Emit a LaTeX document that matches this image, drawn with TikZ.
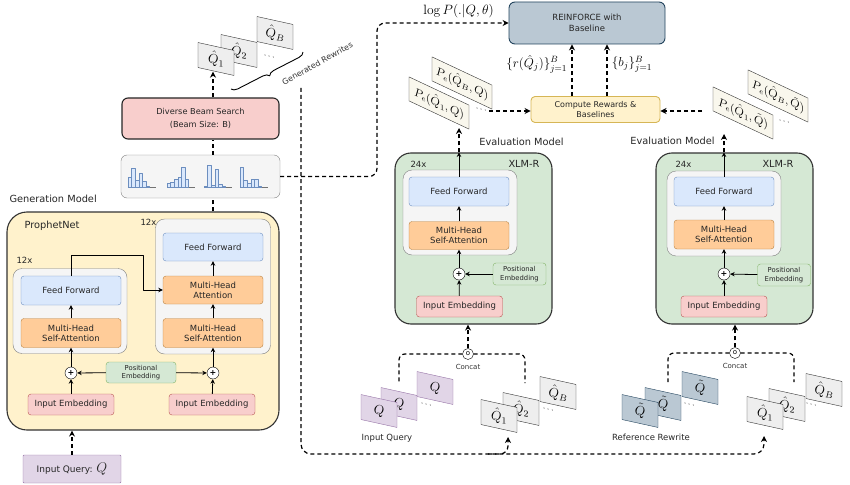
\RequirePackage{fix-cm}
\documentclass[tikz,border=0pt]{standalone}
\usepackage{amsmath, amssymb}
\usepackage[no-math]{fontspec}
\setmainfont{DejaVu Sans}
\usetikzlibrary{arrows.meta, decorations.pathreplacing}

\begin{document}
\begin{tikzpicture}
		[x=1pt,y=-1pt,line join=round,>={Stealth[length=4.5pt,width=4.5pt]},
		%Styles
		box/.style={draw,rounded corners=3pt,inner sep=0pt,align=center,text=black!85,font=\fontsize{8.5}{10}\selectfont},
		model/.style={draw=black!80,line width=1.1pt,rounded corners=16pt,inner sep=0pt},
		stack/.style={draw=black!50,fill=stackgray,rounded corners=9pt,inner sep=0pt,minimum width=114,minimum height=85},
		feed/.style={box,fill=ffblue,draw=ffline,minimum width=100,minimum height=29},
		attn/.style={box,fill=attnorange,draw=attnline,minimum width=100,minimum height=29},
		embed/.style={box,fill=embred,draw=embline,minimum width=86,minimum height=21},
		posenc/.style={box,fill=posgreen,draw=posline,minimum width=53,minimum height=22,font=\fontsize{6.8}{8.5}\selectfont},
		plus/.style={circle,draw,fill=white,inner sep=0pt,minimum size=12,font=\bfseries\fontsize{8}{8}\selectfont},
		concat/.style={circle,draw,fill=white,inner sep=0pt,minimum size=11,font=\fontsize{7}{7}\selectfont},
		card/.style={draw=black!80,fill=hatgray,yslant=-0.22,minimum width=36,minimum height=25,inner sep=0pt,font=\fontsize{13.5}{13.5}\selectfont},
		query card/.style={card,fill=querypurple,draw=queryline},
		ref card/.style={card,fill=reinblue,draw=reinline},
		score card/.style={card,fill=pecream,yslant=-0.25,minimum width=60,minimum height=24,font=\fontsize{12}{12}\selectfont},
		model title/.style={text=black!85,font=\fontsize{9.8}{11}\selectfont},
		times/.style={text=black!85,font=\fontsize{8.5}{10}\selectfont},
		small label/.style={text=black!80,font=\fontsize{7}{8}\selectfont},
		more/.style={yslant=-0.22,font=\fontsize{9}{9}\selectfont},
		flow/.style={line width=1.2pt,dash pattern=on 4pt off 3pt},
		flow arrow/.style={flow,-{Stealth[length=6pt,width=6pt]}}
		]
		
		%Colors
		\definecolor{genyellow}{HTML}{FFF2CC}
		\definecolor{evalgreen}{HTML}{D5E8D4}
		\definecolor{stackgray}{HTML}{F5F5F5}
		\definecolor{ffblue}{HTML}{DAE8FC}
		\definecolor{ffline}{HTML}{6C8EBF}
		\definecolor{attnorange}{HTML}{FFCC99}
		\definecolor{attnline}{HTML}{B8813F}
		\definecolor{embred}{HTML}{F8CECC}
		\definecolor{embline}{HTML}{B85450}
		\definecolor{posgreen}{HTML}{D5E8D4}
		\definecolor{posline}{HTML}{82B366}
		\definecolor{reinblue}{HTML}{BAC8D3}
		\definecolor{reinline}{HTML}{23445D}
		\definecolor{rewline}{HTML}{D6B656}
		\definecolor{querypurple}{HTML}{E1D5E7}
		\definecolor{queryline}{HTML}{9673A6}
		\definecolor{hatgray}{HTML}{EEEEEE}
		\definecolor{pecream}{HTML}{F9F7ED}
		
		\useasboundingbox (0,0) rectangle (850,484);
		
		%Generation model
		\node[model,fill=genyellow,rounded corners=20pt,minimum width=272,minimum height=218] (gen) at (143,321) {};
		\node[model title,anchor=west] (genname) at (6,199) {Generation Model};
		\node[model title,anchor=west] (prophet) at (21,226) {ProphetNet};
		\node[stack] (encstack) at (70,311) {};
		\node[stack,minimum width=115,minimum height=135] (decstack) at (213,286.5) {};
		\node[times,anchor=west] (enctimes) at (13,260) {12x};
		\node[times,anchor=west] (dectimes) at (137,222) {12x};
		\node[feed] (encff) at (71,290.5) {Feed Forward};
		\node[attn] (encsa) at (71,333) {Multi-Head\\Self-Attention};
		\node[feed,minimum height=28] (decff) at (213,247) {Feed Forward};
		\node[attn,minimum height=28] (decca) at (213,290) {Multi-Head\\Attention};
		\node[attn] (decsa) at (213,333) {Multi-Head\\Self-Attention};
		\node[plus] (encplus) at (71,373) {+};
		\node[plus] (decplus) at (213,373) {+};
		\node[posenc,minimum width=70,minimum height=21] (genpos) at (141,372.5) {Positional\\Embedding};
		\node[embed] (encemb) at (71,404.5) {Input Embedding};
		\node[embed] (decemb) at (212,404.5) {Input Embedding};
		\node[box,fill=querypurple,draw=queryline,rounded corners=1pt,minimum width=98,minimum height=28,font=\fontsize{9}{10}\selectfont] (query) at (72,469) {Input Query: {\fontsize{14}{14}\selectfont$Q$}};
		\coordinate (skip) at (143,255);
		
		%Decoder output and beam search
		\node[box,fill=stackgray,draw=black!50,rounded corners=6pt,minimum width=159,minimum height=43] (probs) at (200.5,176.5) {};
		\foreach \x/\hs in {128/{10,19,7,14,6,1},167/{4,5,8,10,20,8},204/{1,22,2,18,3,1},240/{20,7,4,8,8,1}}{
			\draw[black!55,line width=0.5pt] (\x,187) -- ++(28,0);
			\foreach \h [count=\i] in \hs
				\draw[fill=ffblue,draw=ffline,line width=0.5pt] ({\x+(\i-1)*3.6},187) rectangle ++(3.6,-\h);
		}
		\node[box,fill=embred,draw=black!85,line width=1.1pt,rounded corners=6pt,minimum width=157,minimum height=41,font=\fontsize{8.2}{13}\selectfont] (beam) at (200.5,118.5) {Diverse Beam Search\\(Beam Size: B)};
		
		%Generated rewrites
		\node[card] (gqB) at (275,33) {$\hat{Q}_B$};
		\node[card] (gq2) at (239,51) {$\hat{Q}_2$};
		\node[card] (gq1) at (216,59) {$\hat{Q}_1$};
		\node[more] (gdots) at (270,57) {$\cdots$};
		\draw[decorate,decoration={brace,amplitude=6pt,mirror},line width=0.9pt] (231,89) -- (303,52);
		\node[small label,rotate=29,anchor=base west,font=\fontsize{8}{9}\selectfont] (rewrites) at (281,87) {Generated Rewrites};
		\coordinate (rewout) at (301,88);
		
		%Policy update
		\node[box,fill=reinblue,draw=reinline,line width=0.9pt,rounded corners=6pt,minimum width=156,minimum height=42,font=\fontsize{8.5}{11}\selectfont] (reinforce) at (587,23) {REINFORCE with\\Baseline};
		\node[box,fill=genyellow,draw=rewline,line width=0.9pt,rounded corners=4pt,minimum width=129,minimum height=26,font=\fontsize{8}{10.5}\selectfont] (rewards) at (595.5,109.5) {Compute Rewards \&\\Baselines};
		\coordinate (lpturn) at (377,23);
		
		%Evaluation model on the input query
		\node[model,fill=evalgreen,minimum width=157,minimum height=171] (evalA) at (473.5,238.5) {};
		\node[model title] (evalAname) at (521.5,142) {Evaluation Model};
		\node[times,anchor=west] (evalAtimes) at (407,164) {24x};
		\node[model title,anchor=east] (xlmA) at (543,164) {XLM-R};
		\node[stack] (stackA) at (460,212.5) {};
		\node[feed] (ffA) at (459,191.5) {Feed Forward};
		\node[attn,minimum height=28] (saA) at (459,235.5) {Multi-Head\\Self-Attention};
		\node[plus] (plusA) at (459,274) {+};
		\node[posenc] (posA) at (519.5,274) {Positional\\Embedding};
		\node[embed] (embA) at (459.5,306.5) {Input Embedding};
		\node[concat] (catA) at (468,354) {o};
		\node[small label] (catAname) at (468,367) {Concat};
		
		\node[query card] (iqC) at (435,388) {$Q$};
		\node[query card] (iqB) at (399,404) {$Q$};
		\node[query card] (iqA) at (379,411) {$Q$};
		\node[more] (iqdots) at (427,405) {$\cdots$};
		\node[times] (iqname) at (387,438) {Input Query};
		\node[card] (mqB) at (558,393) {$\hat{Q}_B$};
		\node[card] (mq2) at (521,409) {$\hat{Q}_2$};
		\node[card] (mq1) at (499,416) {$\hat{Q}_1$};
		\node[more] (mqdots) at (549,410) {$\cdots$};
		
		\node[score card] (peAB) at (462,83) {$P_e(\hat{Q}_B,Q)$};
		\node[score card] (peA1) at (439,103) {$P_e(\hat{Q}_1,Q)$};
		\node[more] (pedotsA) at (482,110) {$\cdots$};
		\coordinate (peAtip) at (459,128);
		\coordinate (peAout) at (489,111);
		\coordinate (catAleft) at (399,383);
		\coordinate (catAright) at (525,383);
		
		%Evaluation model on the reference rewrite
		\node[model,fill=evalgreen,minimum width=157,minimum height=171] (evalB) at (734.5,238.5) {};
		\node[model title] (evalBname) at (672.5,141) {Evaluation Model};
		\node[times,anchor=west] (evalBtimes) at (672,164) {24x};
		\node[model title,anchor=east] (xlmB) at (797,164) {XLM-R};
		\node[stack] (stackB) at (724,213.5) {};
		\node[feed] (ffB) at (724,191.5) {Feed Forward};
		\node[attn] (saB) at (724,234.5) {Multi-Head\\Self-Attention};
		\node[plus] (plusB) at (724,274) {+};
		\node[posenc] (posB) at (784,275) {Positional\\Embedding};
		\node[embed] (embB) at (724,306.5) {Input Embedding};
		\node[concat] (catB) at (735,353) {o};
		\node[small label] (catBname) at (735,366) {Concat};
		
		\node[ref card] (rqC) at (700,388) {$\tilde{Q}$};
		\node[ref card] (rqB) at (663,404) {$\tilde{Q}$};
		\node[ref card] (rqA) at (640,411) {$\tilde{Q}$};
		\node[more] (rqdots) at (690,405) {$\cdots$};
		\node[times] (rqname) at (651,437) {Reference Rewrite};
		\node[card] (sqB) at (824,390) {$\hat{Q}_B$};
		\node[card] (sq2) at (787,405) {$\hat{Q}_2$};
		\node[card] (sq1) at (765,413) {$\hat{Q}_1$};
		\node[more] (sqdots) at (812,405) {$\cdots$};
		
		\node[score card] (peBB) at (778,96) {$P_e(\hat{Q}_B,\tilde{Q})$};
		\node[score card] (peB1) at (743,113) {$P_e(\hat{Q}_1,\tilde{Q})$};
		\node[more] (pedotsB) at (785,122) {$\cdots$};
		\coordinate (peBtip) at (724,134);
		\coordinate (peBout) at (702,111);
		\coordinate (catBleft) at (668,382);
		\coordinate (catBright) at (794,382);
		
		\coordinate (midfork) at (488,454);
		\coordinate (midtip) at (508,437);
		\coordinate (righttip) at (764,436);
		
		%Solid arrows
		\path[->,line width=0.8pt]
			(encemb)	edge	(encplus)
			(encplus)	edge	(encsa)
			(encsa)	edge	(encff)
			(genpos)	edge	(encplus)
			(genpos)	edge	(decplus)
			(decemb)	edge	(decplus)
			(decplus)	edge	(decsa)
			(decsa)	edge	(decca)
			(decca)	edge	(decff)
			(embA)	edge	(plusA)
			(posA)	edge	(plusA)
			(plusA)	edge	(saA)
			(saA)	edge	(ffA)
			(ffA)	edge	(ffA |- evalA.north)
			(embB)	edge	(plusB)
			(posB)	edge	(plusB)
			(plusB)	edge	(saB)
			(saB)	edge	(ffB)
			(ffB)	edge	(ffB |- evalB.north);
		\draw[->,line width=0.8pt] (encff.north) |- (skip) |- (decca.west);
		
		%Dashed flow
		\draw[flow arrow] (query) -- (query |- gen.south);
		\draw[flow] (decff.north |- gen.north) -- (decff.north |- probs.south);
		\draw[flow] (decff.north |- probs.north) -- (decff.north |- beam.south);
		\draw[flow arrow] (decff.north |- beam.north) -- (decff.north |- gq1.south);
		\draw[flow arrow,rounded corners=8pt] (probs.east) -| (lpturn) -- node[above=1pt,pos=0.62,font=\fontsize{13.5}{14}\selectfont] {$\log P(.|Q,\theta)$} (reinforce.west);
		\draw[flow arrow,rounded corners=10pt] (rewout) |- (righttip |- midfork) -- (righttip);
		\draw[flow arrow,rounded corners=8pt] (midfork) -| (midtip);
		\draw[flow arrow] (ffA |- evalA.north) -- (peAtip);
		\draw[flow arrow] (ffB |- evalB.north) -- (peBtip);
		\draw[flow arrow] (peAout) -- (peAout -| rewards.west);
		\draw[flow arrow] (peBout) -- (peBout -| rewards.east);
		\draw[flow arrow] ([xshift=-23.5pt]rewards.north) -- node[left=1pt,pos=0.62,font=\fontsize{13}{14}\selectfont] {$\{r(\hat{Q}_j)\}_{j=1}^B$} ([xshift=-23.5pt]rewards.north |- reinforce.south);
		\draw[flow arrow] ([xshift=11.5pt]rewards.north) -- node[right=1pt,pos=0.62,font=\fontsize{13}{14}\selectfont] {$\{b_j\}_{j=1}^B$} ([xshift=11.5pt]rewards.north |- reinforce.south);
		\draw[flow,rounded corners=6pt] (catA.west) -| (catAleft);
		\draw[flow,rounded corners=6pt] (catA.east) -| (catAright);
		\draw[flow arrow] (catA) -- (catA |- evalA.south);
		\draw[flow,rounded corners=6pt] (catB.west) -| (catBleft);
		\draw[flow,rounded corners=6pt] (catB.east) -| (catBright);
		\draw[flow arrow] (catB) -- (catB |- evalB.south);
\end{tikzpicture}
\end{document}
